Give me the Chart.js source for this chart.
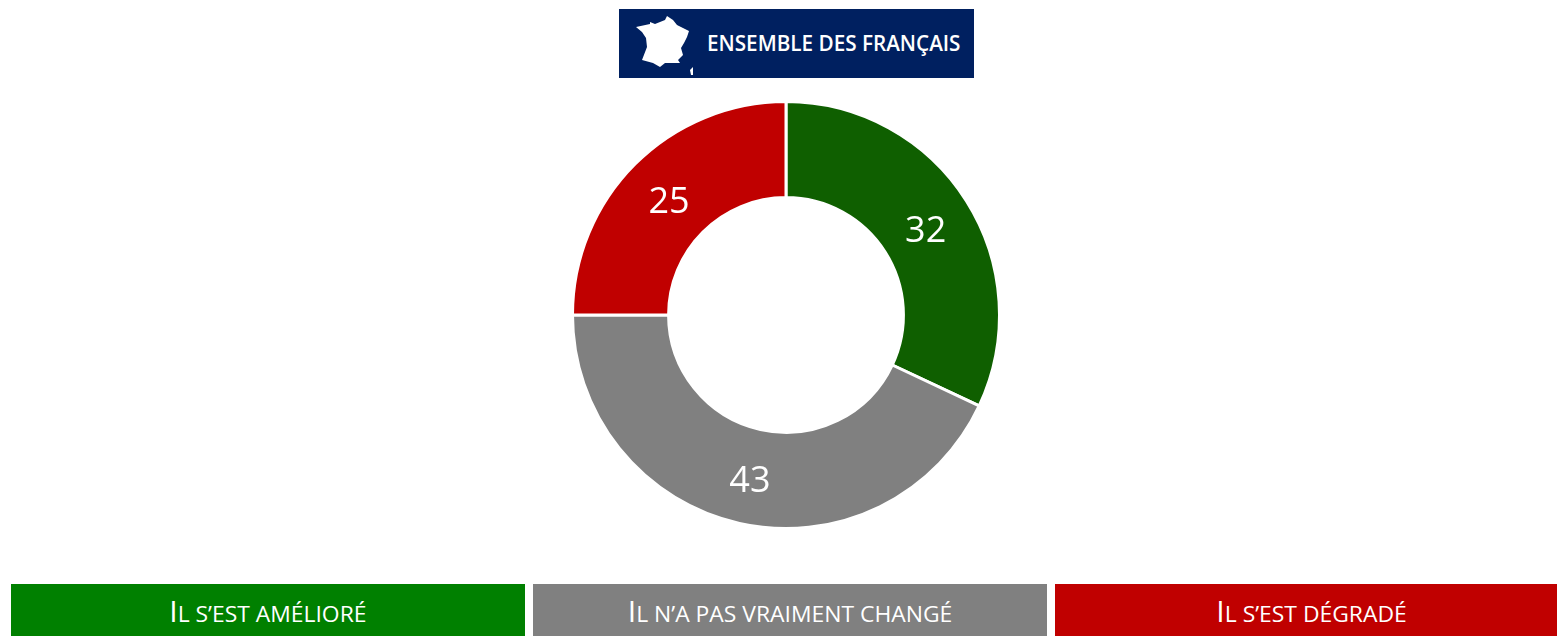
<!DOCTYPE html>
<html><head><meta charset="utf-8">
<style>
html,body{margin:0;padding:0;background:#fff;width:1557px;height:636px;overflow:hidden;font-family:"Open Sans",sans-serif}
#c{position:absolute;left:566px;top:95px}
#head{position:absolute;left:619px;top:9px;width:355px;height:69px;background:#002060;color:#fff}
#head span{position:absolute;left:88px;top:19px;font-size:22px;line-height:28px;font-weight:600;white-space:nowrap;transform-origin:0 50%;transform:scaleX(.94)}
#head svg{position:absolute;left:0;top:0}
.leg{position:absolute;top:584px;height:52px;color:#fff;text-align:center;line-height:54px;white-space:nowrap;box-sizing:border-box}
.leg span{display:inline-block;font-size:22px;text-transform:uppercase;transform:scaleX(1.04)}
.leg span::first-letter{font-size:29px}
</style></head><body>
<div id="head">
<svg width="100" height="69" viewBox="0 0 100 69"><path fill="#fff" d="M17 18 L31 15 L31 13 L36 15 L46 11 L48 7 L54 11 L58 16 L70 22 L68 28 L65 34 L62 39 L64 46 L59 51 L61 54 L46 54 L41 58 L34 54 L23 51 L28 38 L27 29 L23 23 Z"/><path fill="#fff" d="M74 58 L71 61 L72 66 L74 66 Z"/></svg>
<span id="title"></span></div>
<canvas id="c" width="440" height="440"></canvas>
<div id="legend"></div>
<script src="https://cdn.jsdelivr.net/npm/chart.js@4"></script>
<script>
const titleText = "ENSEMBLE DES FRANÇAIS";
const categories = ["Il s’est amélioré", "Il n’a pas vraiment changé", "Il s’est dégradé"];
const values = [32, 43, 25];
const sliceColors = ["#0F5F00", "#808080", "#C00000"];
const legendColors = ["#008000", "#808080", "#C00000"];
const legendBoxes = [[11,514,0],[533,514,0],[1055,502,12]];

document.getElementById('title').textContent = titleText;
const lg = document.getElementById('legend');
categories.forEach((t,i)=>{
  const d=document.createElement('div');d.className='leg';
  d.style.left=legendBoxes[i][0]+'px';d.style.width=legendBoxes[i][1]+'px';d.style.background=legendColors[i];
  d.style.paddingLeft=legendBoxes[i][2]+'px';
  const s=document.createElement('span');s.textContent=t;d.appendChild(s);lg.appendChild(d);
});
const labelPlugin={id:'sliceLabels',afterDatasetsDraw(chart){
  const {ctx}=chart;const meta=chart.getDatasetMeta(0);
  ctx.save();ctx.fillStyle='#fff';ctx.font='36px "Open Sans"';ctx.textAlign='center';ctx.textBaseline='middle';
  meta.data.forEach((arc,i)=>{const p=arc.tooltipPosition();ctx.fillText(String(values[i]),p.x,p.y+5);});
  ctx.restore();
}};
new Chart(document.getElementById('c'),{
  type:'doughnut',
  data:{labels:categories,datasets:[{data:values,backgroundColor:sliceColors,borderColor:'#fff',borderWidth:3,borderAlign:'center'}]},
  options:{responsive:false,animation:false,cutout:'55%',
    layout:{padding:5},
    plugins:{legend:{display:false},tooltip:{enabled:false}}},
  plugins:[labelPlugin]
});
</script>
</body></html>
